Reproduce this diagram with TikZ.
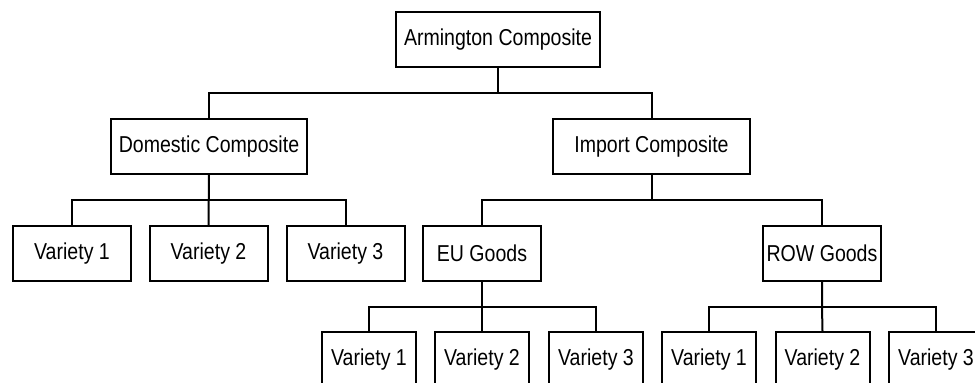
\documentclass[tikz,border=0pt]{standalone}
\usepackage{fontspec}
\setmainfont{Liberation Sans}[FakeStretch=0.85]
\begin{document}
\begin{tikzpicture}[x=0.5pt,y=-0.5pt,
  box/.style={draw,line width=1pt,inner sep=0pt,minimum height=27.5pt,
    font=\fontsize{11.5}{13}\selectfont},
  wide/.style={box,minimum width=98pt},
  mid/.style={box,minimum width=59pt},
  small/.style={box,minimum width=47pt},
  link/.style={line width=1pt}]
\clip (0,0) rectangle (975,383);
\fill[white] (0,0) rectangle (975,383);
% row 1
\node[box,minimum width=102pt] (arm) at (498,39.5) {Armington Composite};
% row 2
\node[wide] (dom) at (209,146.5) {Domestic Composite};
\node[wide,minimum width=98.5pt] (imp) at (651.5,146.5) {Import Composite};
% row 3
\node[mid] (d1) at (72,253.5) {Variety 1};
\node[mid] (d2) at (208.5,253.5) {Variety 2};
\node[mid] (d3) at (345.5,253.5) {Variety 3};
\node[mid] (eu) at (482,253.5) {EU Goods};
\node[mid] (row) at (822,253.5) {ROW Goods};
% row 4
\node[small] (e1) at (369,359.5) {Variety 1};
\node[small] (e2) at (482,359.5) {Variety 2};
\node[small] (e3) at (596,359.5) {Variety 3};
\node[small] (r1) at (709,359.5) {Variety 1};
\node[small] (r2) at (822.5,359.5) {Variety 2};
\node[small] (r3) at (936,359.5) {Variety 3};
% bus levels
\coordinate (b1) at (0,93);
\coordinate (b2) at (0,200);
\coordinate (b3) at (0,307);
% level 1
\draw[link] (arm.south) -- (arm.south |- b1);
\draw[link] (dom.north) |- (b1 -| imp.north) -- (imp.north);
% level 2 domestic
\draw[link] (dom.south) -- (d2.north);
\draw[link] (d1.north) |- (b2 -| d3.north) -- (d3.north);
% level 2 import
\draw[link] (imp.south) -- (imp.south |- b2);
\draw[link] (eu.north) |- (b2 -| row.north) -- (row.north);
% level 3 EU
\draw[link] (eu.south) -- (e2.north);
\draw[link] (e1.north) |- (b3 -| e3.north) -- (e3.north);
% level 3 ROW
\draw[link] (row.south) -- (row.south |- b3) -- (r2.north);
\draw[link] (r1.north) |- (b3 -| r3.north) -- (r3.north);
\end{tikzpicture}
\end{document}
